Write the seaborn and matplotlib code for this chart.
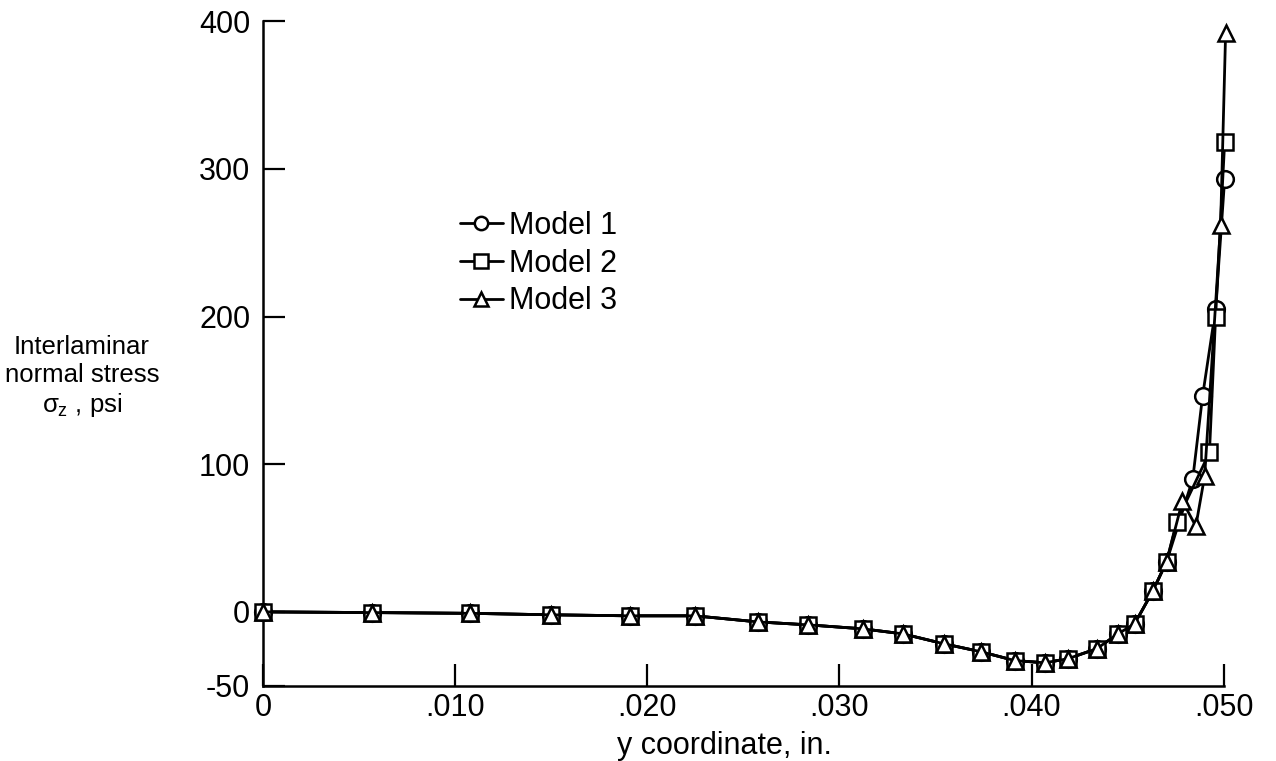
import matplotlib
matplotlib.use("Agg")
import matplotlib.pyplot as plt
import pandas as pd
import numpy as np
import seaborn as sns

# points shared by all three models (curves lie on top of each other here)
y_common = [0.0, 0.00567, 0.01077, 0.01498, 0.0191, 0.02248, 0.02575, 0.02836,
            0.03122, 0.0333, 0.03543, 0.03736, 0.03913, 0.04069, 0.04188,
            0.04339, 0.04449, 0.04537, 0.04631, 0.04703]
s_common = [0.0, -0.5, -1.0, -2.0, -2.7, -2.7, -6.8, -8.8, -11.5, -14.9,
            -21.6, -27.0, -33.0, -34.5, -31.8, -25.0, -15.0, -8.0, 14.0, 34.0]

# near the free edge the models split
y_m1 = [0.04839, 0.04890, 0.04958, 0.05005]
s_m1 = [90, 146, 205, 293]
y_m2 = [0.04755, 0.04926, 0.04958, 0.05005]
s_m2 = [61, 108, 200, 318]
y_m3 = [0.04785, 0.04855, 0.04901, 0.04984, 0.05010]
s_m3 = [75, 58, 92, 262, 392]

models = ["Model 1", "Model 2", "Model 3"]
markers = ["o", "s", "^"]

sns.set_style("ticks")
plt.rcParams["font.family"] = ["Liberation Sans", "DejaVu Sans"]
plt.rcParams["mathtext.fontset"] = "custom"
plt.rcParams["mathtext.rm"] = "Liberation Sans"
plt.rcParams["mathtext.it"] = "Liberation Sans"
plt.rcParams["text.color"] = "black"
plt.rcParams["xtick.color"] = "black"
plt.rcParams["ytick.color"] = "black"
plt.rcParams["axes.edgecolor"] = "black"
plt.rcParams["axes.labelcolor"] = "black"

fig = plt.figure(figsize=(12.76, 7.61), dpi=100)
ax = fig.add_axes([0.206, 0.099, 0.753, 0.873])

tails = [(y_m1, s_m1), (y_m2, s_m2), (y_m3, s_m3)]
for name, mk, (yy, ss) in zip(models, markers, tails):
    df = pd.DataFrame({"y": y_common + yy, "stress": s_common + ss})
    sns.lineplot(data=df, x="y", y="stress", ax=ax, color="black", lw=2,
                 marker=mk, markersize=12, markerfacecolor="white",
                 markeredgecolor="black", markeredgewidth=1.8,
                 label=name, clip_on=False, zorder=3)

ax.set_xlim(0, 0.050)
ax.set_ylim(-50, 400)
ax.set_xticks([0, 0.010, 0.020, 0.030, 0.040, 0.050])
ax.set_xticklabels(["0", ".010", ".020", ".030", ".040", ".050"])
ax.set_yticks([-50, 0, 100, 200, 300, 400])
ax.set_yticklabels(["-50", "0", "100", "200", "300", "400"])
ax.tick_params(direction="in", length=16, width=1.6, labelsize=22)
ax.tick_params(axis="y", pad=9)
ax.tick_params(axis="x", pad=5)
for side in ["top", "right"]:
    ax.spines[side].set_visible(False)
for side in ["left", "bottom"]:
    ax.spines[side].set_linewidth(1.8)

ax.set_xlabel("y coordinate, in.", fontsize=22, labelpad=0)
ax.xaxis.set_label_coords(0.48, -0.068)
ax.set_ylabel("")

fig.text(82 / 1276, 1 - 377 / 761,
         "Interlaminar\nnormal stress\n$\\sigma_z$ , psi",
         ha="center", va="center", fontsize=18.5, linespacing=1.2)

leg = ax.legend(loc="upper left", bbox_to_anchor=(460 / 1276, 1 - 211 / 761),
                bbox_transform=fig.transFigure, frameon=False, fontsize=22,
                handlelength=1.4, handletextpad=0.2, labelspacing=0.25,
                borderpad=0, borderaxespad=0, markerscale=0.8)

fig.savefig("out.png", dpi=100)
